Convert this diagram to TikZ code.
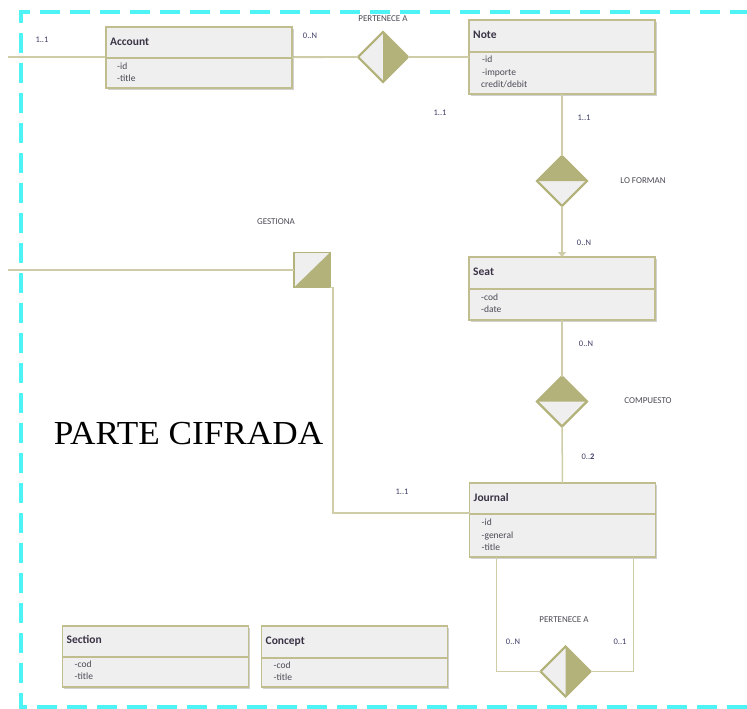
\documentclass[tikz,border=0pt]{standalone}
\usepackage{fontspec}
\setmainfont{Carlito}
\newfontfamily\bigserif{Liberation Serif}
\usetikzlibrary{shapes.geometric,arrows.meta,shadows}

\definecolor{boxfill}{HTML}{EFEFEF}
\definecolor{boxline}{HTML}{C0BE8E}
\definecolor{olivefill}{HTML}{B4B27B}
\definecolor{linecol}{HTML}{CFCDA8}
\definecolor{titlecol}{HTML}{3A3346}
\definecolor{attrcol}{HTML}{4A4A55}
\definecolor{cardcol}{HTML}{3C3C66}
\definecolor{framecol}{HTML}{4DF3F5}

\tikzset{
  entity/.style={draw=boxline, fill=boxfill, line width=1.6pt, inner sep=0pt, outer sep=0pt,
    minimum width=186pt,
    drop shadow={shadow xshift=1.5pt, shadow yshift=-2pt, opacity=0.3, fill=black!60}},
  entityline/.style={draw=boxline, line width=1.4pt},
  etitle/.style={anchor=west, inner sep=0pt, font=\bfseries\fontsize{11.5}{13}\selectfont,
    text=titlecol, text height=8pt, text depth=2.5pt},
  eattr/.style={anchor=west, inner sep=0pt, font=\fontsize{9.5}{11}\selectfont,
    text=attrcol, text height=7pt, text depth=2pt},
  card/.style={inner sep=0pt, font=\fontsize{8.5}{10}\selectfont, text=cardcol},
  rlabel/.style={inner sep=0pt, font=\fontsize{9}{10}\selectfont, text=attrcol},
  conn/.style={draw=linecol, line width=1.5pt},
  rel/.style={diamond, draw=olivefill, fill=boxfill, line width=1.8pt, inner sep=0pt,
    outer sep=0pt, minimum width=50pt, minimum height=50pt},
  relsq/.style={rectangle, draw=olivefill, fill=boxfill, line width=1.8pt, inner sep=0pt,
    outer sep=0pt, minimum width=36pt, minimum height=35pt},
  cyanborder/.style={draw=framecol, line width=4.5pt, dash pattern=on 20pt off 10pt},
}

\begin{document}
\begin{tikzpicture}[x=1pt, y=-1pt]
\useasboundingbox (0,0) rectangle (747,709);

% dashed border of the ciphered part, open on the right
\coordinate (fTR) at (750,12);
\coordinate (fTL) at (21,12);
\coordinate (fBL) at (21,707);
\coordinate (fBR) at (750,707);
\begin{scope}
\clip (0,0) rectangle (747,709);
\draw[cyanborder] (fTR) -- (fTL) -- (fBL) -- (fBR);
\end{scope}

% relationship shapes
\node[rel] (pa1) at (383,57) {};
\fill[olivefill] (pa1.north) -- (pa1.east) -- (pa1.south) -- cycle;
\draw[olivefill, line width=1.8pt] (pa1.north) -- (pa1.east) -- (pa1.south) -- (pa1.west) -- cycle;

\node[rel] (lf) at (562,181) {};
\fill[olivefill] (lf.west) -- (lf.north) -- (lf.east) -- cycle;
\draw[olivefill, line width=1.8pt] (lf.north) -- (lf.east) -- (lf.south) -- (lf.west) -- cycle;

\node[rel] (comp) at (562,401.5) {};
\fill[olivefill] (comp.west) -- (comp.north) -- (comp.east) -- cycle;
\draw[olivefill, line width=1.8pt] (comp.north) -- (comp.east) -- (comp.south) -- (comp.west) -- cycle;

\node[rel] (pa2) at (565.5,671.5) {};
\fill[olivefill] (pa2.north) -- (pa2.east) -- (pa2.south) -- cycle;
\draw[olivefill, line width=1.8pt] (pa2.north) -- (pa2.east) -- (pa2.south) -- (pa2.west) -- cycle;

\node[relsq] (gest) at (312,270) {};
\fill[olivefill] (gest.south west) -- (gest.north east) -- (gest.south east) -- cycle;
\draw[olivefill, line width=1.8pt] (gest.south west) rectangle (gest.north east);

% connectors drawn below the entity boxes
\coordinate (accIn) at (8,57);
\coordinate (gestIn) at (8,270);
\draw[conn] (accIn) -- (pa1.west);
\draw[conn] (gestIn) -- (gest.west);

% entities
\node[entity, minimum height=61pt] (account) at (199,57.5) {};
\draw[entityline] ([yshift=-31pt]account.north west) -- ([yshift=-31pt]account.north east);
\node[etitle] (account-t) at ([xshift=4pt,yshift=-16pt]account.north west) {Account};
\node[eattr] (account-a1) at ([xshift=11pt,yshift=-40pt]account.north west) {-id};
\node[eattr] (account-a2) at ([xshift=11pt,yshift=-52pt]account.north west) {-title};

\node[entity, minimum height=74pt] (note) at (562,57) {};
\draw[entityline] ([yshift=-32pt]note.north west) -- ([yshift=-32pt]note.north east);
\node[etitle] (note-t) at ([xshift=4pt,yshift=-16pt]note.north west) {Note};
\node[eattr] (note-a1) at ([xshift=13pt,yshift=-40pt]note.north west) {-id};
\node[eattr] (note-a2) at ([xshift=13pt,yshift=-52.5pt]note.north west) {-importe};
\node[eattr] (note-a3) at ([xshift=12pt,yshift=-65pt]note.north west) {credit/debit};

\node[entity, minimum height=63pt] (seat) at (562,288.5) {};
\draw[entityline] ([yshift=-32pt]seat.north west) -- ([yshift=-32pt]seat.north east);
\node[etitle] (seat-t) at ([xshift=4pt,yshift=-16pt]seat.north west) {Seat};
\node[eattr] (seat-a1) at ([xshift=12pt,yshift=-41pt]seat.north west) {-cod};
\node[eattr] (seat-a2) at ([xshift=12pt,yshift=-53pt]seat.north west) {-date};

\node[entity, minimum height=74pt] (journal) at (562.5,520) {};
\draw[entityline] ([yshift=-31pt]journal.north west) -- ([yshift=-31pt]journal.north east);
\node[etitle] (journal-t) at ([xshift=4pt,yshift=-16pt]journal.north west) {Journal};
\node[eattr] (journal-a1) at ([xshift=12pt,yshift=-40pt]journal.north west) {-id};
\node[eattr] (journal-a2) at ([xshift=12pt,yshift=-52.5pt]journal.north west) {-general};
\node[eattr] (journal-a3) at ([xshift=12pt,yshift=-65pt]journal.north west) {-title};

\node[entity, minimum height=61pt] (section) at (155.5,656.5) {};
\draw[entityline] ([yshift=-31pt]section.north west) -- ([yshift=-31pt]section.north east);
\node[etitle] (section-t) at ([xshift=4pt,yshift=-15pt]section.north west) {Section};
\node[eattr] (section-a1) at ([xshift=12pt,yshift=-39pt]section.north west) {-cod};
\node[eattr] (section-a2) at ([xshift=12pt,yshift=-51pt]section.north west) {-title};

\node[entity, minimum height=61pt] (concept) at (354.5,656.5) {};
\draw[entityline] ([yshift=-32pt]concept.north west) -- ([yshift=-32pt]concept.north east);
\node[etitle] (concept-t) at ([xshift=4pt,yshift=-16pt]concept.north west) {Concept};
\node[eattr] (concept-a1) at ([xshift=12pt,yshift=-40pt]concept.north west) {-cod};
\node[eattr] (concept-a2) at ([xshift=12pt,yshift=-52pt]concept.north west) {-title};

% connectors between entities and relationships
\draw[conn] (account.east) -- (pa1.west);
\draw[conn] (pa1.east) -- (note.west);
\draw[conn] (note.south) -- (lf.north);
\draw[conn, -{Triangle[width=8pt,length=5pt]}] (lf.south) -- (seat.north);
\draw[conn] (seat.south) -- (comp.north);
\draw[conn] (comp.south) -- (journal.north);
\draw[conn] (gest.south east) -- ++(3,0) |- ([yshift=-30pt]journal.north west);
\draw[conn] ([xshift=27pt]journal.south west) |- (pa2.west);
\draw[conn] ([xshift=-22pt]journal.south east) |- (pa2.east);

% relationship names
\node[rlabel] (pa1-l) at (383,19) {PERTENECE A};
\node[rlabel] (lf-l) at (643,181) {LO FORMAN};
\node[rlabel] (gest-l) at (276,222) {GESTIONA};
\node[rlabel] (comp-l) at (648,401) {COMPUESTO};
\node[rlabel] (pa2-l) at (564,620) {PERTENECE A};

% cardinalities
\node[card] (c1) at (42,40) {1..1};
\node[card] (c2) at (310,36) {0..N};
\node[card] (c3) at (440,113) {1..1};
\node[card] (c4) at (584,118) {1..1};
\node[card] (c5) at (584,243) {0..N};
\node[card] (c6) at (586,344) {0..N};
\node[card] (c7) at (588,457) {0..\textbf{2}};
\node[card] (c8) at (402,492) {1..1};
\node[card] (c9) at (513,642) {0..N};
\node[card] (c10) at (620,642) {0..1};

% title of the framed area
\node[inner sep=0pt, text=black] (parte) at (188.5,434)
  {\scalebox{1.1}[1.05]{\bigserif\fontsize{32}{36}\selectfont PARTE CIFRADA}};
\end{tikzpicture}
\end{document}
